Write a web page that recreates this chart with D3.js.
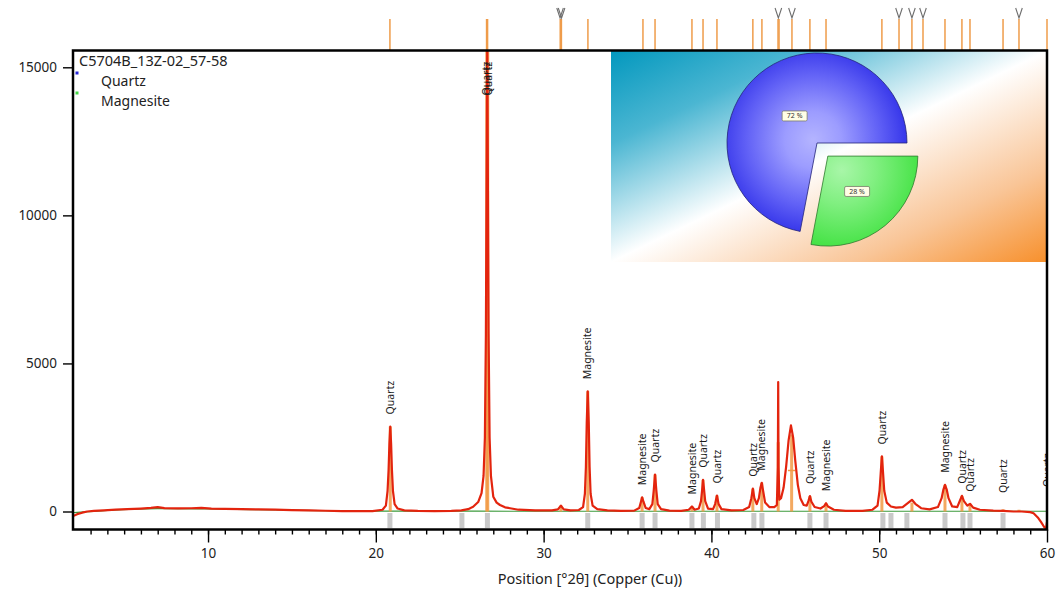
<!DOCTYPE html>
<html><head><meta charset="utf-8">
<script src="https://cdn.jsdelivr.net/npm/d3@7"></script>
<style>
body{margin:0;background:#fff;}
svg{display:block;font-family:"Noto Sans",sans-serif;}
</style>
</head><body>
<svg id="chart" width="1059" height="593"></svg>
<script>
// ---------------- data ----------------
const sampleName = "C5704B_13Z-02_57-58";
const phases = ["Quartz", "Magnesite"];
const phaseShares = [72, 28];            // % (pie)
const xMajorTicks = [10, 20, 30, 40, 50, 60];
const xMinorTicks = d3.range(3, 60, 1);
const yTicks = [0, 5000, 10000, 15000];
const xTitle = "Position [°2θ] (Copper (Cu))";

// observed profile [2θ, counts]
const profile = [
 [2.0,-140],[2.2,-90],[2.5,-40],[2.8,0],[3.2,20],[3.8,40],[4.5,60],[5.2,80],[6.0,100],[6.6,120],[7.0,150],[7.4,115],
 [8.2,105],[9.0,110],[9.6,125],[10.2,100],[11.0,90],[12.0,80],[13.0,70],[14.0,60],[15.0,45],[16.0,35],[17.0,25],
 [18.0,15],[19.0,10],[19.8,10],[20.4,60],[20.6,200],[20.7,700],[20.76,1400],[20.81,2300],[20.86,2870],[20.91,2300],
 [20.96,1400],[21.02,700],[21.12,250],[21.3,100],[21.7,40],[22.5,20],[23.5,15],[24.5,20],[25.1,40],[25.5,80],
 [25.8,160],[26.1,320],[26.3,620],[26.42,1200],[26.5,2500],[26.56,6000],[26.6,11000],[26.64,15800],[26.68,11000],
 [26.72,6000],[26.78,2500],[26.86,1200],[27.0,500],[27.2,300],[27.4,220],[27.7,140],[28.0,110],[28.5,60],[29.5,40],
 [30.5,40],[30.85,70],[31.03,200],[31.2,70],[31.6,40],[32.1,50],[32.35,150],[32.46,600],[32.52,1500],[32.57,3000],
 [32.63,4060],[32.69,3000],[32.74,1500],[32.8,600],[32.92,200],[33.2,80],[33.8,40],[34.6,20],[35.4,30],[35.7,120],
 [35.8,330],[35.87,480],[35.95,330],[36.08,120],[36.3,80],[36.48,250],[36.56,700],[36.64,1250],[36.72,700],[36.8,250],
 [37.0,80],[37.5,30],[38.2,20],[38.65,60],[38.84,170],[39.0,60],[39.25,100],[39.38,350],[39.45,750],[39.5,1070],
 [39.56,750],[39.63,350],[39.8,100],[40.1,80],[40.22,250],[40.33,540],[40.43,250],[40.6,80],[41.2,40],[41.9,50],
 [42.25,150],[42.38,450],[42.47,770],[42.56,450],[42.7,250],[42.83,450],[42.92,800],[43.0,970],[43.08,700],[43.2,300],
 [43.45,150],[43.75,150],[43.9,220],[43.96,1500],[43.98,4370],[44.0,1500],[44.05,400],[44.15,450],[44.3,800],
 [44.45,1500],[44.6,2400],[44.74,2910],[44.87,2500],[45.0,1700],[45.15,900],[45.3,450],[45.5,220],[45.68,200],
 [45.78,350],[45.87,520],[45.96,330],[46.15,150],[46.5,100],[46.72,180],[46.83,280],[46.95,170],[47.3,60],[48.0,20],
 [49.0,20],[49.6,60],[49.9,200],[50.02,700],[50.09,1300],[50.16,1860],[50.23,1300],[50.3,700],[50.45,300],[50.7,170],
 [51.0,130],[51.4,150],[51.7,280],[51.95,395],[52.15,260],[52.5,110],[53.0,70],[53.5,150],[53.72,450],[53.83,750],
 [53.92,900],[54.02,750],[54.13,450],[54.35,170],[54.65,150],[54.82,380],[54.93,530],[55.05,350],[55.25,200],
 [55.41,260],[55.6,130],[56.0,60],[56.8,30],[57.4,20],[58.0,0],[58.5,0],[59.0,-20],[59.2,-60],[59.45,-200],
 [59.65,-360],[59.85,-540],[59.95,-560],[60.0,-350]
];

// fitted background [2θ, counts]
const background = [[2,-40],[4,40],[7,100],[10,85],[14,50],[18,20],[22,12],[26,10],[30,8],[40,8],[50,8],[60,8]];

// calculated peak sticks [2θ, counts]
const calcPeaks = [
 [20.86,2870],[26.61,16000],[26.67,16000],[31.03,200],[32.63,4060],[35.87,480],[36.64,1250],[38.84,170],[39.5,1070],[40.33,540],
 [42.47,770],[43.0,970],[43.98,2340],[44.78,2600],[45.87,520],[46.83,280],[50.16,1860],[51.95,300],[53.92,900],
 [54.93,530],[55.41,260],[57.38,80],[58.33,60]
];
// half-width marker of the broad peak [2θ, counts, half width °2θ]
const widthMarkers = [[44.78,1385,0.22]];

// reference pattern bars below the baseline (2θ)
const refBars = [20.84,25.13,26.65,32.63,35.87,36.64,38.84,39.52,40.36,42.53,43.01,45.87,46.83,50.22,50.70,51.65,53.92,54.99,55.41,57.38];

// peak list sticks above the plot (2θ)
const peakList = [20.84,26.60,26.66,30.99,31.06,32.64,35.92,36.64,38.84,39.50,40.33,42.47,43.01,43.97,44.03,44.80,45.87,46.83,50.16,51.18,51.95,52.61,53.92,54.93,55.41,57.38,58.33,60.0];
const unmatched = [30.98,31.07,43.99,44.80,51.18,51.95,52.61,58.33];

// peak labels: 2θ, phase, anchor counts
const labelPos   = [20.86,26.60,26.68,32.63,35.87,36.64,38.84,39.5,40.33,42.47,43.0,45.87,46.83,50.16,53.92,54.93,55.41,57.38,60.0];
const labelPhase = ["Quartz","Quartz","Quartz","Magnesite","Magnesite","Quartz","Magnesite","Quartz","Quartz","Quartz","Magnesite","Quartz","Magnesite","Quartz","Magnesite","Quartz","Quartz","Quartz","Quartz"];
const labelAt    = [2870,16000,16000,4060,480,1250,170,1070,540,770,970,520,280,1860,900,530,260,220,420];

// ---------------- layout ----------------
const svg = d3.select("#chart");
const P = {l:73, r:1047, t:50.5, b:529.5};
const x = d3.scaleLinear().domain([2,60]).range([73.8,1047]);
const y = d3.scaleLinear().domain([0,15000]).range([511.5,67.3]);

const defs = svg.append("defs");
defs.append("clipPath").attr("id","plotClip").append("rect")
  .attr("x",P.l).attr("y",P.t).attr("width",P.r-P.l).attr("height",P.b-P.t);
defs.append("clipPath").attr("id","labelClip").append("rect")
  .attr("x",P.l).attr("y",0).attr("width",P.r-P.l+1).attr("height",P.b);

// peak list sticks above the plot
const stickG = svg.append("g");
stickG.selectAll("line").data(peakList).join("line")
  .attr("x1",d=>x(d)).attr("x2",d=>x(d)).attr("y1",19).attr("y2",P.t)
  .attr("stroke","#ef9c4a").attr("stroke-width",1.5);
stickG.selectAll("path").data(unmatched).join("path")
  .attr("d",d=>`M${x(d)-3.3},8 L${x(d)},18 L${x(d)+3.3},8`)
  .attr("fill","none").attr("stroke","#6e6e6e").attr("stroke-width",1.1);

const plot = svg.append("g").attr("clip-path","url(#plotClip)");

// reference bars
plot.selectAll("rect.ref").data(refBars).join("rect").attr("class","ref")
  .attr("x",d=>x(d)-2.5).attr("width",5).attr("y",513).attr("height",15)
  .attr("fill","#c9c9c9");

// background line
plot.append("path").datum(background)
  .attr("d",d3.line().x(d=>x(d[0])).y(d=>y(d[1])).curve(d3.curveMonotoneX))
  .attr("fill","none").attr("stroke","#3c9a3c").attr("stroke-width",1.2);

// calculated sticks
plot.selectAll("line.calc").data(calcPeaks).join("line").attr("class","calc")
  .attr("x1",d=>x(d[0])).attr("x2",d=>x(d[0])).attr("y1",y(0)).attr("y2",d=>y(d[1]))
  .attr("stroke","#f19a45").attr("stroke-opacity",0.85).attr("stroke-width",3);
plot.selectAll("line.wm").data(widthMarkers).join("line").attr("class","wm")
  .attr("x1",d=>x(d[0]-d[2])).attr("x2",d=>x(d[0]+d[2])).attr("y1",d=>y(d[1])).attr("y2",d=>y(d[1]))
  .attr("stroke","#f19a45").attr("stroke-width",1.5);

// observed profile
plot.append("path").datum(profile)
  .attr("d",d3.line().x(d=>x(d[0])).y(d=>y(d[1])))
  .attr("fill","none").attr("stroke","#e3240e").attr("stroke-width",2.2).attr("stroke-linejoin","round");

// peak labels
const lab = svg.append("g").attr("clip-path","url(#labelClip)");
lab.selectAll("text").data(labelPos).join("text")
  .attr("transform",(d,i)=>`translate(${x(d)},${Math.max(y(labelAt[i])-12, P.t+45)}) rotate(-90)`)
  .attr("dy","0.35em").attr("font-size","10.5px").attr("fill","#1a1a1a")
  .text((d,i)=>labelPhase[i]);

// ---------------- inset pie ----------------
const box = {x:611, y:P.t+0.5, w:P.r-611, h:211};
const lg = defs.append("linearGradient").attr("id","bg").attr("x1",0).attr("y1",0).attr("x2",1).attr("y2",1);
[[0,"#0398be"],[0.22,"#4bb6d2"],[0.5,"#ffffff"],[0.78,"#f9c597"],[1,"#f7902c"]]
  .forEach(s=>lg.append("stop").attr("offset",s[0]).attr("stop-color",s[1]));
svg.append("rect").attr("x",box.x).attr("y",box.y).attr("width",box.w).attr("height",box.h).attr("fill","url(#bg)");

const cx = 817, cy = 143, R = 90, explode = 17;
// gradients are in the local coordinates of each slice group (origin = slice apex)
const rb = defs.append("radialGradient").attr("id","gBlue").attr("gradientUnits","userSpaceOnUse")
  .attr("cx",-4).attr("cy",-3).attr("r",R+4);
[[0,"#b4b4ff"],[0.3,"#9c9cff"],[0.7,"#6262f6"],[1,"#3636ea"]].forEach(s=>rb.append("stop").attr("offset",s[0]).attr("stop-color",s[1]));
const rg = defs.append("radialGradient").attr("id","gGreen").attr("gradientUnits","userSpaceOnUse")
  .attr("cx",14).attr("cy",14).attr("r",R+8);
[[0,"#a8f6a8"],[0.35,"#80ef80"],[0.75,"#4ce44c"],[1,"#30dc30"]].forEach(s=>rg.append("stop").attr("offset",s[0]).attr("stop-color",s[1]));

const pie = d3.pie().sort(null).value(d=>d)
  .startAngle(Math.PI/2 + 2*Math.PI*phaseShares[1]/100)
  .endAngle(Math.PI/2 + 2*Math.PI*phaseShares[1]/100 + 2*Math.PI);
const arcs = pie(phaseShares);
const arc = d3.arc().innerRadius(0).outerRadius(R);
const fills = ["url(#gBlue)","url(#gGreen)"], strokes = ["#23237a","#2d7a2d"];
const labR = [R*0.39, R*0.51];
const pg = svg.append("g");
arcs.forEach((a,i)=>{
  const mid = (a.startAngle+a.endAngle)/2;
  const off = i===1 ? explode : 0;
  const g = pg.append("g").attr("transform",`translate(${cx+Math.sin(mid)*off},${cy-Math.cos(mid)*off})`);
  g.append("path").attr("d",arc(a)).attr("fill",fills[i]).attr("stroke",strokes[i]).attr("stroke-width",0.8);
  const c = d3.arc().innerRadius(labR[i]).outerRadius(labR[i]).centroid(a);
  const lgp = g.append("g").attr("transform",`translate(${c[0]},${c[1]})`);
  lgp.append("rect").attr("x",-12.5).attr("y",-5).attr("width",25).attr("height",10).attr("rx",1.5)
    .attr("fill","#fffde6").attr("stroke","#7a7a6a").attr("stroke-width",0.8);
  lgp.append("text").attr("text-anchor","middle").attr("dy","0.35em").attr("font-size","7px").attr("fill","#333")
    .text(phaseShares[i]+" %");
});

// ---------------- axes & frame ----------------
const xMinor = svg.append("g").attr("transform",`translate(0,${P.b})`)
  .call(d3.axisBottom(x).tickValues(xMinorTicks).tickSize(5).tickFormat(""));
const xMajor = svg.append("g").attr("transform",`translate(0,${P.b})`)
  .call(d3.axisBottom(x).tickValues(xMajorTicks).tickSize(13).tickPadding(5.5).tickFormat(d3.format("d")));
const yAx = svg.append("g").attr("transform",`translate(${P.l},0)`)
  .call(d3.axisLeft(y).tickValues(yTicks).tickSize(10).tickPadding(6).tickFormat(d3.format("d")));
[xMinor,xMajor,yAx].forEach(g=>{
  g.select(".domain").remove();
  g.selectAll("line").attr("stroke","#000").attr("stroke-width",1.4);
  g.selectAll("text").attr("font-size","13.5px").attr("fill","#222").attr("font-family","'Noto Sans',sans-serif");
});

svg.append("rect").attr("x",P.l).attr("y",P.t).attr("width",P.r-P.l).attr("height",P.b-P.t)
  .attr("fill","none").attr("stroke","#000").attr("stroke-width",2.5);

svg.append("text").attr("x",590).attr("y",584).attr("text-anchor","middle")
  .attr("font-size","14.5px").attr("fill","#222").text(xTitle);

// legend
const leg = svg.append("g");
leg.append("text").attr("x",79).attr("y",66).attr("font-size","14.5px").attr("fill","#222").text(sampleName);
const legColors = ["#2626d8","#46d846"];
phases.forEach((p,i)=>{
  leg.append("rect").attr("x",75.5).attr("y",71.5+i*20).attr("width",3).attr("height",3).attr("fill",legColors[i]);
  leg.append("text").attr("x",101).attr("y",86+i*20).attr("font-size","14px").attr("fill","#222").text(p);
});
</script>
</body></html>
